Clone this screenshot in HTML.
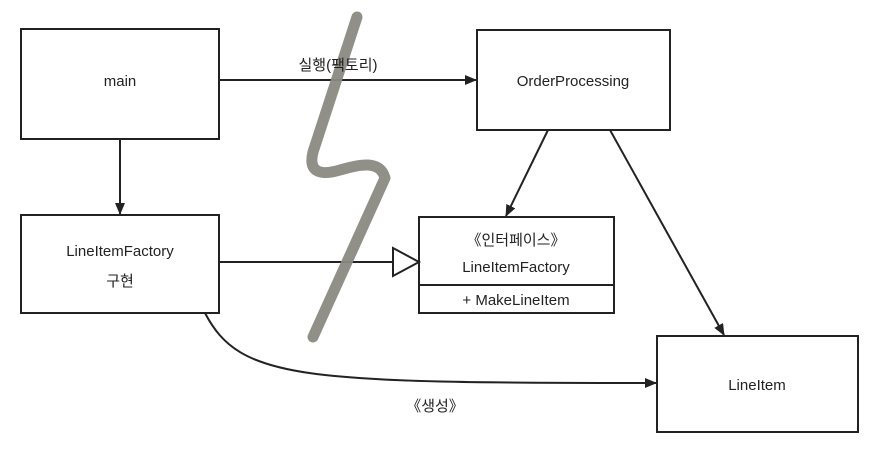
<!DOCTYPE html>
<html><head><meta charset="utf-8"><style>
body{margin:0;background:#fff}
svg text{font-family:"Liberation Sans","Noto Sans CJK KR",sans-serif;font-size:15px;fill:#222}
</style></head><body>
<svg width="876" height="448" viewBox="0 0 876 448" xmlns="http://www.w3.org/2000/svg">
<defs><marker id="a" markerWidth="12" markerHeight="10" refX="11" refY="5" orient="auto" markerUnits="userSpaceOnUse"><path d="M0,0 L12,5 L0,10 Z" fill="#222"/></marker></defs>
<g fill="none" stroke="#222" stroke-width="2">
<rect x="21" y="29" width="198" height="110"/>
<rect x="477" y="30" width="193" height="100"/>
<rect x="21" y="215" width="198" height="98"/>
<rect x="419" y="217" width="195" height="96"/>
<line x1="419" y1="285" x2="614" y2="285"/>
<rect x="657" y="336" width="201" height="96"/>
<line x1="219" y1="80" x2="476" y2="80" marker-end="url(#a)"/>
<line x1="120" y1="139" x2="120" y2="214" marker-end="url(#a)"/>
<line x1="548" y1="130" x2="506" y2="216" marker-end="url(#a)"/>
<line x1="610" y1="130" x2="724" y2="335" marker-end="url(#a)"/>
<line x1="219" y1="262" x2="393" y2="262"/>
<path d="M393,248 L419,262 L393,276 Z" fill="#fff"/>
<path d="M205,313 C240,380 300,383 656,383" marker-end="url(#a)"/>
</g>
<path d="M357,17 L313,152 C308,172 320,176 340,170 C360,164 380,160 385,178 L313,337" fill="none" stroke="#8a8a82" stroke-width="11" stroke-linecap="round" stroke-linejoin="round" opacity="0.95"/>
<text x="120" y="86" text-anchor="middle">main</text>
<text x="573" y="86" text-anchor="middle">OrderProcessing</text>
<text x="338" y="70" text-anchor="middle">실행(팩토리)</text>
<text x="120" y="256" text-anchor="middle">LineItemFactory</text>
<text x="120" y="286" text-anchor="middle">구현</text>
<text x="516" y="245" text-anchor="middle">《인터페이스》</text>
<text x="516" y="272" text-anchor="middle">LineItemFactory</text>
<text x="516" y="305" text-anchor="middle">+ MakeLineItem</text>
<text x="757" y="390" text-anchor="middle">LineItem</text>
<text x="435" y="411" text-anchor="middle">《생성》</text>
</svg>
</body></html>
